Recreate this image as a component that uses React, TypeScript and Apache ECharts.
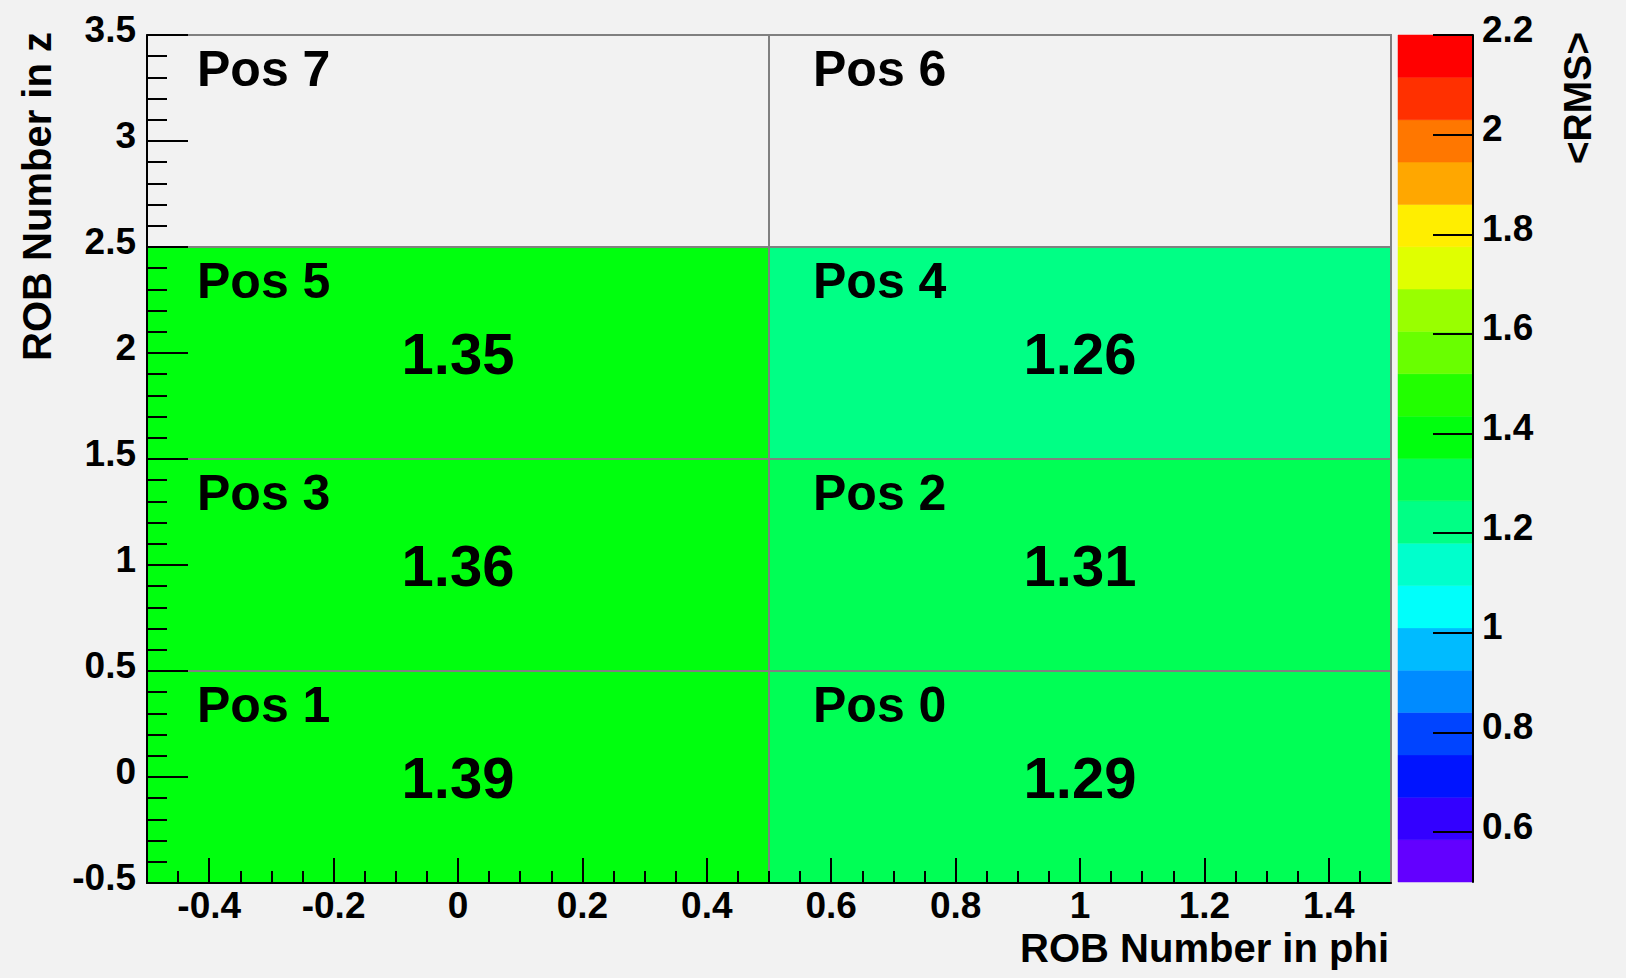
import React, { useEffect, useRef } from "react";
import * as echarts from "echarts";

// ---- data ----
const POS_LABELS = ["Pos 0", "Pos 1", "Pos 2", "Pos 3", "Pos 4", "Pos 5", "Pos 6", "Pos 7"];
const PHI = [1, 0, 1, 0, 1, 0, 1, 0];
const ZPOS = [0, 0, 1, 1, 2, 2, 3, 3];
const RMS: (number | null)[] = [1.29, 1.39, 1.31, 1.36, 1.26, 1.35, null, null];

const X_TICKS = [-0.4, -0.2, 0, 0.2, 0.4, 0.6, 0.8, 1, 1.2, 1.4];
const Y_TICKS = [-0.5, 0, 0.5, 1, 1.5, 2, 2.5, 3, 3.5];
const CB_TICKS = [0.6, 0.8, 1, 1.2, 1.4, 1.6, 1.8, 2, 2.2];

const Z_MIN = 0.5;
const Z_MAX = 2.2;
const PALETTE = [
  "#6300ff", "#3300ff", "#0014ff", "#0044ff", "#008bff",
  "#00bbff", "#00fffb", "#00ffcc", "#00ff85", "#00ff55",
  "#00ff0e", "#22ff00", "#69ff00", "#99ff00", "#e0ff00",
  "#ffee00", "#ffa700", "#ff7700", "#ff3000", "#ff0000",
];

const X_MINOR: number[] = [];
for (let k = -9; k <= 29; k++) X_MINOR.push(Math.round(k * 5) / 100);
const Y_MINOR: number[] = [];
for (let k = -4; k <= 34; k++) Y_MINOR.push(Math.round(k * 10) / 100);

const FONT = '"Liberation Sans", Arial, Helvetica, sans-serif';
const BG = "#f2f2f2";

function colorFor(v: number): string {
  const n = PALETTE.length;
  let idx = Math.floor(((v - Z_MIN) / (Z_MAX - Z_MIN)) * n + 1e-6);
  if (idx < 0) idx = 0;
  if (idx > n - 1) idx = n - 1;
  return PALETTE[idx];
}

const fmt = (v: number) => String(Math.round(v * 100) / 100);

export default function App() {
  const ref = useRef<HTMLDivElement>(null);
  useEffect(() => {
    if (!ref.current) return;
    const chart = echarts.init(ref.current, undefined, { renderer: "svg" });
    const nLev = PALETTE.length;
    const levW = (Z_MAX - Z_MIN) / nLev;

    const labelStyle = {
      color: "#000",
      fontFamily: FONT,
      fontWeight: "bold" as const,
      fontSize: 37,
    };
    const tickLine = { color: "#000", width: 2 };

    chart.setOption({
      animation: false,
      backgroundColor: BG,
      grid: [
        { left: 147, top: 35, width: 1244, height: 848 },
        { left: 1398, top: 35, width: 75, height: 847 },
      ],
      xAxis: [
        {
          type: "value", gridIndex: 0, min: -0.5, max: 1.5, position: "bottom", z: 10,
          axisLine: { show: true, onZero: false, lineStyle: tickLine },
          axisTick: { show: true, inside: true, length: 25, customValues: X_TICKS, lineStyle: tickLine },
          axisLabel: { ...labelStyle, customValues: X_TICKS, margin: 4, formatter: fmt },
          splitLine: { show: false },
        },
        {
          type: "value", gridIndex: 0, min: -0.5, max: 1.5, position: "bottom", z: 10,
          axisLine: { show: false, onZero: false },
          axisTick: { show: true, inside: true, length: 12, customValues: X_MINOR, lineStyle: tickLine },
          axisLabel: { show: false },
          splitLine: { show: false },
        },
        {
          type: "value", gridIndex: 1, min: 0, max: 1, position: "bottom", show: false,
          axisLine: { show: false, onZero: false },
        },
      ],
      yAxis: [
        {
          type: "value", gridIndex: 0, min: -0.5, max: 3.5, position: "left", z: 10,
          axisLine: { show: true, onZero: false, lineStyle: tickLine },
          axisTick: { show: true, inside: true, length: 41, customValues: Y_TICKS, lineStyle: tickLine },
          axisLabel: { ...labelStyle, customValues: Y_TICKS, margin: 11, verticalAlign: "bottom", lineHeight: 12, formatter: fmt },
          splitLine: { show: false },
        },
        {
          type: "value", gridIndex: 0, min: -0.5, max: 3.5, position: "left", z: 10,
          axisLine: { show: false, onZero: false },
          axisTick: { show: true, inside: true, length: 20, customValues: Y_MINOR, lineStyle: tickLine },
          axisLabel: { show: false },
          splitLine: { show: false },
        },
        {
          type: "value", gridIndex: 1, min: Z_MIN, max: Z_MAX, position: "right", z: 10,
          axisLine: { show: true, onZero: false, lineStyle: tickLine },
          axisTick: { show: true, inside: true, length: 40, customValues: CB_TICKS, lineStyle: tickLine },
          axisLabel: { ...labelStyle, customValues: CB_TICKS, margin: 9, verticalAlign: "bottom", lineHeight: 12, formatter: fmt },
          splitLine: { show: false },
        },
      ],
      series: [
        {
          type: "custom",
          xAxisIndex: 0,
          yAxisIndex: 0,
          clip: false,
          data: PHI.map((p, i) => [p, ZPOS[i], i]),
          renderItem: (params: any, api: any) => {
            const phi = api.value(0);
            const z = api.value(1);
            const i = api.value(2);
            const tl = api.coord([phi - 0.5, z + 0.5]);
            const br = api.coord([phi + 0.5, z - 0.5]);
            const v = RMS[i];
            const labelOffset = phi < 0.5 ? 50 : 44;
            const children: any[] = [
              {
                type: "rect",
                shape: { x: tl[0], y: tl[1], width: br[0] - tl[0], height: br[1] - tl[1] },
                style: { fill: v == null ? "none" : colorFor(v), stroke: "#808080", lineWidth: 2 },
              },
              {
                type: "text",
                style: {
                  text: POS_LABELS[i], x: tl[0] + labelOffset, y: tl[1] + 34,
                  fill: "#000", fontFamily: FONT, fontWeight: "bold", fontSize: 50,
                  align: "left", verticalAlign: "middle",
                },
              },
            ];
            if (v != null) {
              children.push({
                type: "text",
                style: {
                  text: v.toFixed(2), x: (tl[0] + br[0]) / 2, y: (tl[1] + br[1]) / 2,
                  fill: "#000", fontFamily: FONT, fontWeight: "bold", fontSize: 58,
                  align: "center", verticalAlign: "middle",
                },
              });
            }
            return { type: "group", children };
          },
        },
        {
          type: "custom",
          xAxisIndex: 2,
          yAxisIndex: 2,
          clip: false,
          data: PALETTE.map((_, j) => [j]),
          renderItem: (params: any, api: any) => {
            const j = api.value(0);
            const top = api.coord([0, Z_MIN + (j + 1) * levW]);
            const bot = api.coord([1, Z_MIN + j * levW]);
            return {
              type: "rect",
              shape: { x: top[0], y: top[1], width: bot[0] - top[0], height: bot[1] - top[1] },
              style: { fill: PALETTE[j], stroke: PALETTE[j], lineWidth: 0.5 },
            };
          },
        },
      ],
      graphic: [
        {
          type: "text", x: 1389, y: 948,
          style: { text: "ROB Number in phi", fill: "#000", fontFamily: FONT, fontWeight: "bold", fontSize: 40, align: "right", verticalAlign: "middle" },
        },
        {
          type: "text", x: 37, y: 32, rotation: Math.PI / 2,
          style: { text: "ROB Number in z", fill: "#000", fontFamily: FONT, fontWeight: "bold", fontSize: 40, align: "right", verticalAlign: "middle" },
        },
        {
          type: "text", x: 1577, y: 32, rotation: Math.PI / 2,
          style: { text: "<RMS>", fill: "#000", fontFamily: FONT, fontWeight: "bold", fontSize: 39, align: "right", verticalAlign: "middle" },
        },
      ],
    });
    return () => chart.dispose();
  }, []);

  return (
    <div
      ref={ref}
      style={{ position: "fixed", left: 0, top: 0, width: 1626, height: 978, background: BG }}
    />
  );
}
